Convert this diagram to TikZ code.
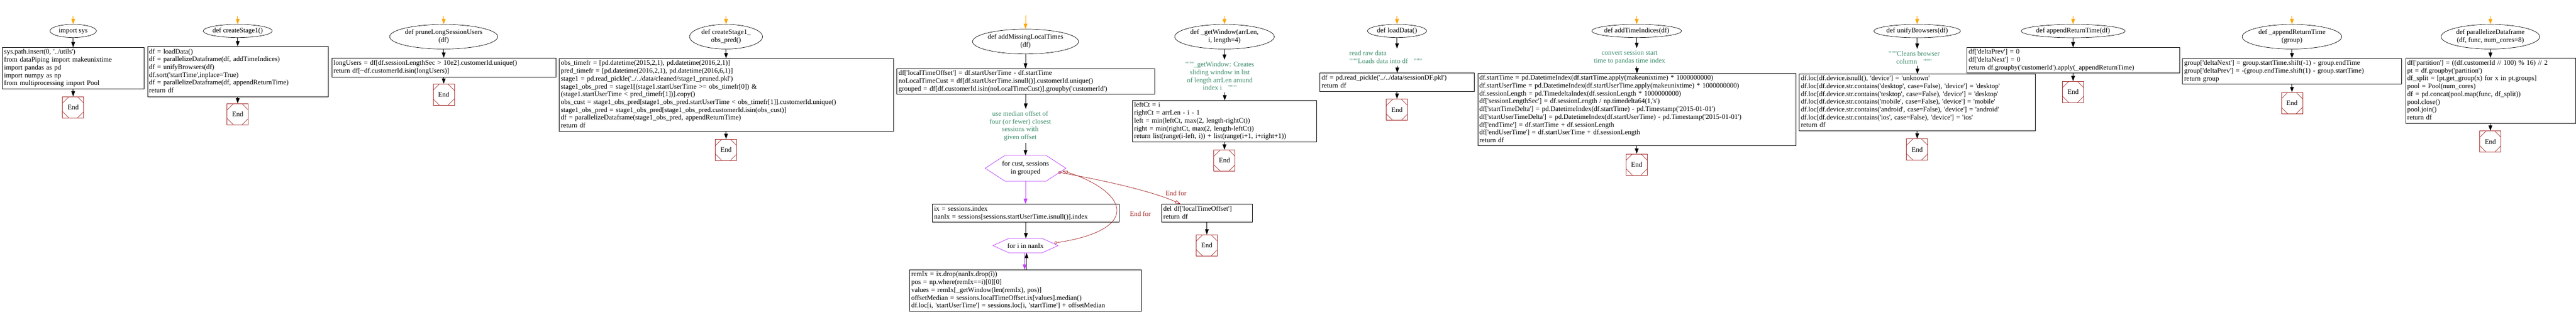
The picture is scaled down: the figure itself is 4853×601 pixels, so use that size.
\documentclass[tikz,border=0pt]{standalone}
\usepackage{fontspec}
\newfontfamily\cf{Liberation Serif}
\usetikzlibrary{shapes.geometric,arrows.meta,calc}
\definecolor{endred}{RGB}{165,42,42}
\definecolor{cgreen}{RGB}{60,140,105}
\definecolor{lpurple}{RGB}{191,62,255}
\definecolor{sorange}{RGB}{255,165,0}
\newcommand\cfont{\cf\fontsize{13}{14.7}\selectfont}
\newcommand\ctr[1]{\makebox[0pt]{#1}}
\newcommand\two[2]{\makebox[0pt]{\begin{tabular}{@{}c@{}}#1\\#2\end{tabular}}}
\newcommand\cb[1]{\begin{tabular}{@{}l@{}}#1\end{tabular}}
\newcommand\hexdraw[2]{\draw[lpurple, line width=0.8pt] (#1.west) -- ($(#1.north west)!#2!(#1.north east)$) -- ($(#1.north east)!#2!(#1.north west)$) -- (#1.east) -- ($(#1.south east)!#2!(#1.south west)$) -- ($(#1.south west)!#2!(#1.south east)$) -- cycle;}
\tikzset{
  ell/.style={draw, ellipse, inner sep=0pt, line width=0.7pt, font=\cfont},
  codebox/.style={draw, rectangle, anchor=north west, inner xsep=3pt, inner ysep=0pt, font=\cfont, line width=0.9pt},
  endnode/.style={draw=endred, rectangle, minimum width=40pt, minimum height=40pt, inner sep=0pt, line width=0.8pt, font=\cfont,
    path picture={
      \draw[endred, line width=0.7pt]
        ([xshift=12pt]path picture bounding box.north west) -- ([yshift=-12pt]path picture bounding box.north west)
        ([xshift=-12pt]path picture bounding box.north east) -- ([yshift=-12pt]path picture bounding box.north east)
        ([xshift=12pt]path picture bounding box.south west) -- ([yshift=12pt]path picture bounding box.south west)
        ([xshift=-12pt]path picture bounding box.south east) -- ([yshift=12pt]path picture bounding box.south east);
    }},
  flow/.style={draw, line width=1pt, -{Triangle[length=10pt,width=7pt]}},
  loopflow/.style={draw=lpurple, line width=1pt, -{Triangle[length=10pt,width=7pt]}},
  startarrow/.style={draw=sorange, line width=1pt, -{Triangle[length=10pt,width=7pt]}},
  note/.style={text=cgreen, font=\cfont, align=center, inner xsep=0pt, inner ysep=4pt},
  hexn/.style={rectangle, inner sep=0pt, font=\cfont},
  endfor/.style={draw=endred, line width=0.8pt, {Circle[open,length=5pt,width=5pt]}-{Triangle[open,length=10pt,width=6pt]}},
  endforlabel/.style={text=endred, font=\cfont, inner sep=0pt}
}
\begin{document}
\begin{tikzpicture}[x=1pt,y=-1pt]
\useasboundingbox (0,0) rectangle (4853,601);

% ---------- 1: import sys
\coordinate (s1) at (137.85,30);
\node[ell, minimum width=87.4pt, minimum height=24.7pt] (e1) at (137.85,58.3) {\ctr{import sys}};
\node[codebox, text width=261.1pt, minimum height=77.4pt] (b1) at (4.3,89.3) {\cb{sys.path.insert(0, '../utils')\\from dataPiping import makeunixtime\\import pandas as pd\\import numpy as np\\from multiprocessing import Pool}};
\node[endnode] (n1) at (137.85,202.3) {End};
\draw[startarrow] (s1) -- (e1.north);
\draw[flow] (e1.south) -- (e1.south |- b1.north);
\draw[flow] (n1.north |- b1.south) -- (n1.north);

% ---------- 2: createStage1
\coordinate (s2) at (447.85,30);
\node[ell, minimum width=130pt, minimum height=24.7pt] (e2) at (447.85,58.3) {\ctr{def createStage1()}};
\node[codebox, text width=334.7pt, minimum height=94.4pt] (b2) at (277.5,87.3) {\cb{df = loadData()\\df = parallelizeDataframe(df, addTimeIndices)\\df = unifyBrowsers(df)\\df.sort('startTime',inplace=True)\\df = parallelizeDataframe(df, appendReturnTime)\\return df}};
\node[endnode] (n2) at (447.85,215.3) {End};
\draw[startarrow] (s2) -- (e2.north);
\draw[flow] (e2.south) -- (e2.south |- b2.north);
\draw[flow] (n2.north |- b2.south) -- (n2.north);

% ---------- 3: pruneLongSessionUsers
\coordinate (s3) at (835.9,30);
\node[ell, minimum width=203.6pt, minimum height=46.3pt] (e3) at (835.9,69.2) {\two{def pruneLongSessionUsers}{(df)}};
\node[codebox, text width=415.8pt, minimum height=35.7pt] (b3) at (625,109) {\cb{longUsers = df[df.sessionLengthSec > 10e2].customerId.unique()\\return df[\textasciitilde df.customerId.isin(longUsers)]}};
\node[endnode] (n3) at (835.9,178.3) {End};
\draw[startarrow] (s3) -- (e3.north);
\draw[flow] (e3.south) -- (e3.south |- b3.north);
\draw[flow] (n3.north |- b3.south) -- (n3.north);

% ---------- 4: createStage1_obs_pred
\coordinate (s4) at (1367.85,30);
\node[ell, minimum width=137.4pt, minimum height=46.3pt] (e4) at (1367.85,69.2) {\two{def createStage1\_}{obs\_pred()}};
\node[codebox, text width=623.3pt, minimum height=136.7pt] (b4) at (1053.2,110) {\cb{obs\_timefr = [pd.datetime(2015,2,1), pd.datetime(2016,2,1)]\\pred\_timefr = [pd.datetime(2016,2,1), pd.datetime(2016,6,1)]\\stage1 = pd.read\_pickle('../../data/cleaned/stage1\_pruned.pkl')\\stage1\_obs\_pred = stage1[(stage1.startUserTime >= obs\_timefr[0]) \&\\(stage1.startUserTime < pred\_timefr[1])].copy()\\obs\_cust = stage1\_obs\_pred[stage1\_obs\_pred.startUserTime < obs\_timefr[1]].customerId.unique()\\stage1\_obs\_pred = stage1\_obs\_pred[stage1\_obs\_pred.customerId.isin(obs\_cust)]\\df = parallelizeDataframe(stage1\_obs\_pred, appendReturnTime)\\return df}};
\node[endnode] (n4) at (1367.85,282.3) {End};
\draw[startarrow] (s4) -- (e4.north);
\draw[flow] (e4.south) -- (e4.south |- b4.north);
\draw[flow] (n4.north |- b4.south) -- (n4.north);

% ---------- 5: addMissingLocalTimes
\coordinate (s5) at (1932,29.3);
\node[ell, minimum width=199.6pt, minimum height=46.7pt] (e5) at (1932,78.3) {\two{def addMissingLocalTimes}{(df)}};
\node[codebox, text width=479.3pt, minimum height=48pt] (b5a) at (1689.3,129.3) {\cb{df['localTimeOffset'] = df.startUserTime - df.startTime\\noLocalTimeCust = df[df.startUserTime.isnull()].customerId.unique()\\grouped = df[df.customerId.isin(noLocalTimeCust)].groupby('customerId')}};
\node[note] (L5) at (1922,237.2) {use median offset of\\four (or fewer) closest\\sessions with\\given offset};
\node[hexn, minimum width=151.8pt, minimum height=48pt] (h1) at (1932,317) {\two{for cust, sessions}{in grouped}};
\hexdraw{h1}{0.245}
\node[codebox, text width=345.9pt, minimum height=34pt] (b5b) at (1756.3,384.3) {\cb{ix = sessions.index\\nanIx = sessions[sessions.startUserTime.isnull()].index}};
\node[hexn, minimum width=122.6pt, minimum height=26.7pt] (h2) at (1932,462.7) {\ctr{for i in nanIx}};
\hexdraw{h2}{0.245}
\node[codebox, text width=431.1pt, minimum height=77.4pt] (b5c) at (1713.3,508.3) {\cb{remIx = ix.drop(nanIx.drop(i))\\pos = np.where(remIx==i)[0][0]\\values = remIx[\_getWindow(len(remIx), pos)]\\offsetMedian = sessions.localTimeOffset.ix[values].median()\\df.loc[i, 'startUserTime'] = sessions.loc[i, 'startTime'] + offsetMedian}};
\node[codebox, text width=164.8pt, minimum height=34pt] (b5d) at (2188.2,384.3) {\cb{del df['localTimeOffset']\\return df}};
\node[endnode] (n5) at (2273.6,462.3) {End};
\node[endforlabel] (lA) at (2148.3,402.7) {End for};
\node[endforlabel] (lB) at (2215.4,364.3) {End for};
\draw[startarrow] (s5) -- (e5.north);
\draw[flow] (e5.south) -- (e5.south |- b5a.north);
\draw[flow] (b5a.south) -- (b5a.south |- L5.north);
\draw[flow] (L5.south -| h1.north) -- (h1.north);
\draw[loopflow] (h1.south) -- (h1.south |- b5b.north);
\draw[flow] (b5b.south) -- (b5b.south |- h2.north);
\draw[loopflow] ([xshift=-1.6pt]h2.south) -- ([xshift=-1.6pt]h2.south |- b5c.north);
\draw[flow] ([xshift=1.6pt]b5c.north) -- ([xshift=1.6pt]b5c.north |- h2.south);
\draw[endfor] ([xshift=-7pt,yshift=5pt]h2.east) .. controls (2060,447) and (2106,425) .. (2104,395) .. controls (2102,360) and (2040,333) .. ([xshift=-6.6pt,yshift=-5pt]h1.east);
\draw[endfor] ([xshift=-14pt,yshift=-7.5pt]h1.east) .. controls (2080,340) and (2170,360) .. ([xshift=-50pt]b5d.north);
\draw[flow] (n5.north |- b5d.south) -- (n5.north);

% ---------- 6: _getWindow
\coordinate (s6) at (2306.8,30);
\node[ell, minimum width=187.5pt, minimum height=46.3pt] (e6) at (2306.8,69.2) {\two{def \_getWindow(arrLen,}{i, length=4)}};
\node[note] (L6) at (2298,143.4) {"""\_getWindow: Creates\\sliding window in list\\of length arrLen around\\index i\hspace{12pt}"""};
\node[codebox, text width=341.2pt, minimum height=77.4pt] (b6) at (2133.2,189.3) {\cb{leftCt = i\\rightCt = arrLen - i - 1\\left = min(leftCt, max(2, length-rightCt))\\right = min(rightCt, max(2, length-leftCt))\\return list(range(i-left, i)) + list(range(i+1, i+right+1))}};
\node[endnode] (n6) at (2306.8,302.5) {End};
\draw[startarrow] (s6) -- (e6.north);
\draw[flow] (e6.south) -- (e6.south |- L6.north);
\draw[flow] (b6.north |- L6.south) -- (b6.north);
\draw[flow] (n6.north |- b6.south) -- (n6.north);

% ---------- 7: loadData
\coordinate (s7) at (2631.85,30);
\node[ell, minimum width=111.4pt, minimum height=24.7pt] (e7) at (2631.85,58.3) {\ctr{def loadData()}};
\node[note, align=left, anchor=west] (L7) at (2542,107.7) {read raw data\\"""Loads data into df\hspace{11pt}"""};
\node[codebox, text width=284.9pt, minimum height=35pt] (b7) at (2486.4,137.3) {\cb{df = pd.read\_pickle('../../data/sessionDF.pkl')\\return df}};
\node[endnode] (n7) at (2631.85,206.7) {End};
\draw[startarrow] (s7) -- (e7.north);
\draw[flow] (e7.south) -- (e7.south |- L7.north);
\draw[flow] (b7.north |- L7.south) -- (b7.north);
\draw[flow] (n7.north |- b7.south) -- (n7.north);

% ---------- 8: addTimeIndices
\coordinate (s8) at (3083.4,30);
\node[ell, minimum width=169.2pt, minimum height=24.7pt] (e8) at (3083.4,58.3) {\ctr{def addTimeIndices(df)}};
\node[note] (L8) at (3070,107.8) {convert session start\\time to pandas time index};
\node[codebox, text width=593.6pt, minimum height=136pt] (b8) at (2783.6,138.3) {\cb{df.startTime = pd.DatetimeIndex(df.startTime.apply(makeunixtime) * 1000000000)\\df.startUserTime = pd.DatetimeIndex(df.startUserTime.apply(makeunixtime) * 1000000000)\\df.sessionLength = pd.TimedeltaIndex(df.sessionLength * 1000000000)\\df['sessionLengthSec'] = df.sessionLength / np.timedelta64(1,'s')\\df['startTimeDelta'] = pd.DatetimeIndex(df.startTime) - pd.Timestamp('2015-01-01')\\df['startUserTimeDelta'] = pd.DatetimeIndex(df.startUserTime) - pd.Timestamp('2015-01-01')\\df['endTime'] = df.startTime + df.sessionLength\\df['endUserTime'] = df.startUserTime + df.sessionLength\\return df}};
\node[endnode] (n8) at (3083.4,310) {End};
\draw[startarrow] (s8) -- (e8.north);
\draw[flow] (e8.south) -- (e8.south |- L8.north);
\draw[flow] (b8.north |- L8.south) -- (b8.north);
\draw[flow] (n8.north |- b8.south) -- (n8.north);

% ---------- 9: unifyBrowsers
\coordinate (s9) at (3611.8,30);
\node[ell, minimum width=163.2pt, minimum height=25pt] (e9) at (3611.8,58.5) {\ctr{def unifyBrowsers(df)}};
\node[note] (L9) at (3606,108.3) {"""Cleans browser\\column\hspace{12pt}"""};
\node[codebox, text width=439pt, minimum height=106.4pt] (b9) at (3389.3,139.3) {\cb{df.loc[df.device.isnull(), 'device'] = 'unknown'\\df.loc[df.device.str.contains('desktop', case=False), 'device'] = 'desktop'\\df.loc[df.device.str.contains('tesktop', case=False), 'device'] = 'desktop'\\df.loc[df.device.str.contains('mobile', case=False), 'device'] = 'mobile'\\df.loc[df.device.str.contains('android', case=False), 'device'] = 'android'\\df.loc[df.device.str.contains('ios', case=False), 'device'] = 'ios'\\return df}};
\node[endnode] (n9) at (3611.8,281.7) {End};
\draw[startarrow] (s9) -- (e9.north);
\draw[flow] (e9.south) -- (e9.south |- L9.north);
\draw[flow] (b9.north |- L9.south) -- (b9.north);
\draw[flow] (n9.north |- b9.south) -- (n9.north);

% ---------- 10: appendReturnTime
\coordinate (s10) at (3905.55,30);
\node[ell, minimum width=195.7pt, minimum height=25pt] (e10) at (3905.55,58.5) {\ctr{def appendReturnTime(df)}};
\node[codebox, text width=394.3pt, minimum height=48pt] (b10) at (3705.4,89.3) {\cb{df['deltaPrev'] = 0\\df['deltaNext'] = 0\\return df.groupby('customerId').apply(\_appendReturnTime)}};
\node[endnode] (n10) at (3905.55,173.3) {End};
\draw[startarrow] (s10) -- (e10.north);
\draw[flow] (e10.south) -- (e10.south |- b10.north);
\draw[flow] (n10.north |- b10.south) -- (n10.north);

% ---------- 11: _appendReturnTime
\coordinate (s11) at (4317.85,30);
\node[ell, minimum width=187.5pt, minimum height=46.3pt] (e11) at (4317.85,69.2) {\two{def \_appendReturnTime}{(group)}};
\node[codebox, text width=406.9pt, minimum height=48.3pt] (b11) at (4111.4,110) {\cb{group['deltaNext'] = group.startTime.shift(-1) - group.endTime\\group['deltaPrev'] = -(group.endTime.shift(1) - group.startTime)\\return group}};
\node[endnode] (n11) at (4317.85,194.2) {End};
\draw[startarrow] (s11) -- (e11.north);
\draw[flow] (e11.south) -- (e11.south |- b11.north);
\draw[flow] (n11.north |- b11.south) -- (n11.north);

% ---------- 12: parallelizeDataframe
\coordinate (s12) at (4691.7,30);
\node[ell, minimum width=185.7pt, minimum height=46.3pt] (e12) at (4691.7,69.2) {\two{def parallelizeDataframe}{(df, func, num\_cores=8)}};
\node[codebox, text width=314pt, minimum height=123.3pt] (b12) at (4531.7,109) {\cb{df['partition'] = ((df.customerId // 100) \% 16) // 2\\pt = df.groupby('partition')\\df\_split = [pt.get\_group(x) for x in pt.groups]\\pool = Pool(num\_cores)\\df = pd.concat(pool.map(func, df\_split))\\pool.close()\\pool.join()\\return df}};
\node[endnode] (n12) at (4691.7,266.7) {End};
\draw[startarrow] (s12) -- (e12.north);
\draw[flow] (e12.south) -- (e12.south |- b12.north);
\draw[flow] (n12.north |- b12.south) -- (n12.north);
\end{tikzpicture}
\end{document}
